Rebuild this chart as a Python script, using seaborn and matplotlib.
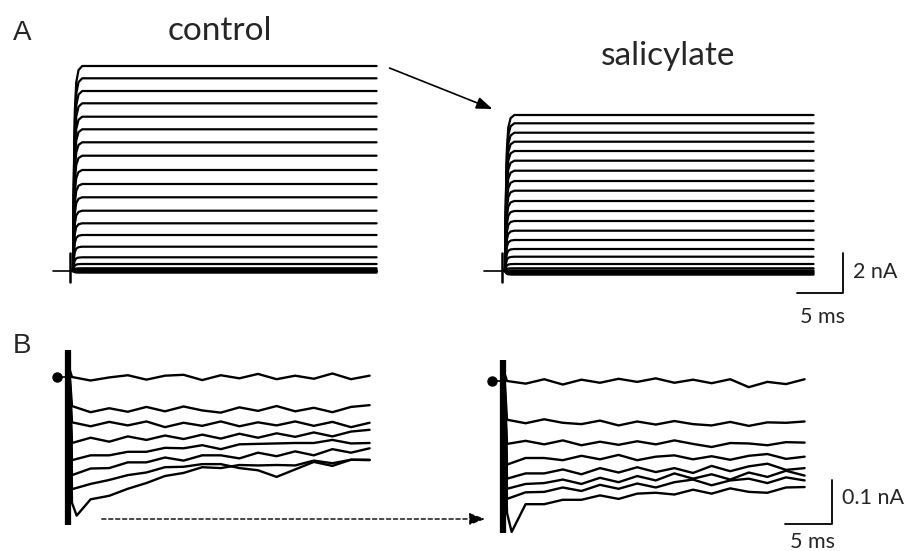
import pandas as pd
import seaborn as sns
import matplotlib.pyplot as plt

# ---- data ----
# A: steady-state outward current (nA) of each voltage step
ctrl_a_levels = [10.25, 9.635, 9.0, 8.385, 7.715, 7.085, 6.435, 5.765, 5.05, 4.35, 3.685,
                 3.015, 2.385, 1.8, 1.215, 0.685, 0.35, 0.135, 0.05, 0.0, -0.04, -0.08]
sal_a_levels = [7.8, 7.385, 6.915, 6.465, 6.0, 5.515, 5.015, 4.5, 4.015, 3.5, 3.0,
                2.5, 2.015, 1.55, 1.1, 0.715, 0.35, 0.135, 0.03, -0.03, -0.08, -0.13, -0.18]
# activation time course (fraction of steady state), ms
act_t = [0.0, 0.1, 0.2, 0.35, 0.6, 1.0, 33.0]
act_frac = [0.0, 0.5, 0.78, 0.92, 0.98, 1.0, 1.0]

# B: small currents (nA) sampled every 2 ms
b_t = [0, 2, 4, 6, 8, 10, 12, 14, 16, 18, 20, 22, 24, 26, 28, 30, 32]
ctrl_b_traces = [
    [0.0, -0.008, -0.001, 0.004, -0.006, 0.003, 0.005, -0.007, 0.004, -0.003, 0.007, -0.005, 0.003, -0.004, 0.008, -0.005, 0.003],
    [-0.066, -0.080, -0.071, -0.079, -0.068, -0.078, -0.067, -0.076, -0.081, -0.069, -0.077, -0.066, -0.078, -0.070, -0.080, -0.068, -0.064],
    [-0.103, -0.112, -0.102, -0.110, -0.101, -0.114, -0.104, -0.111, -0.101, -0.112, -0.103, -0.110, -0.101, -0.111, -0.102, -0.114, -0.104],
    [-0.150, -0.138, -0.147, -0.135, -0.143, -0.133, -0.141, -0.131, -0.140, -0.129, -0.138, -0.128, -0.136, -0.126, -0.135, -0.124, -0.120],
    [-0.189, -0.178, -0.178, -0.170, -0.170, -0.161, -0.162, -0.155, -0.164, -0.153, -0.152, -0.151, -0.150, -0.150, -0.143, -0.151, -0.150],
    [-0.223, -0.208, -0.207, -0.194, -0.194, -0.183, -0.190, -0.178, -0.178, -0.185, -0.172, -0.180, -0.169, -0.178, -0.164, -0.172, -0.162],
    [-0.255, -0.243, -0.234, -0.223, -0.217, -0.205, -0.204, -0.198, -0.198, -0.207, -0.212, -0.227, -0.210, -0.193, -0.202, -0.188, -0.188],
    [-0.286, -0.278, -0.270, -0.254, -0.241, -0.225, -0.218, -0.205, -0.207, -0.200, -0.201, -0.200, -0.201, -0.190, -0.196, -0.188, -0.189],
]
sal_b_traces = [
    [0.0, -0.006, 0.004, -0.008, 0.003, -0.004, 0.005, -0.002, 0.006, -0.004, 0.003, -0.005, 0.004, -0.014, -0.002, -0.007, 0.004],
    [-0.088, -0.096, -0.087, -0.095, -0.098, -0.090, -0.101, -0.092, -0.099, -0.091, -0.098, -0.101, -0.093, -0.102, -0.094, -0.095, -0.092],
    [-0.143, -0.136, -0.144, -0.135, -0.146, -0.138, -0.145, -0.137, -0.144, -0.135, -0.143, -0.150, -0.141, -0.142, -0.146, -0.139, -0.140],
    [-0.190, -0.175, -0.175, -0.180, -0.170, -0.178, -0.168, -0.180, -0.172, -0.169, -0.178, -0.171, -0.179, -0.170, -0.166, -0.177, -0.172],
    [-0.222, -0.210, -0.210, -0.201, -0.212, -0.198, -0.208, -0.196, -0.207, -0.198, -0.209, -0.193, -0.205, -0.194, -0.188, -0.202, -0.198],
    [-0.245, -0.234, -0.232, -0.224, -0.234, -0.220, -0.230, -0.216, -0.226, -0.210, -0.222, -0.212, -0.224, -0.208, -0.218, -0.204, -0.215],
    [-0.268, -0.253, -0.252, -0.242, -0.250, -0.236, -0.245, -0.233, -0.242, -0.230, -0.224, -0.237, -0.226, -0.222, -0.232, -0.219, -0.226],
    [-0.300, -0.280, -0.280, -0.270, -0.270, -0.260, -0.268, -0.256, -0.254, -0.258, -0.247, -0.256, -0.244, -0.252, -0.254, -0.242, -0.241],
]
# transient dip of the largest trace and capacitive artifact extent
ctrl_b_dip = -0.315
sal_b_dip = -0.343
ctrl_b_artifact = [0.061, -0.336]
sal_b_artifact = [0.048, -0.345]

sns.set_theme(style="white")
plt.rcParams['font.family'] = ['Lato', 'DejaVu Sans']

W, H = 911, 551
fig = plt.figure(figsize=(W / 100, H / 100), dpi=100)


def panel(left, top, w, h, t0, y0, px_ms, px_unit):
    # axes placed in pixel units, limits chosen so data sits on the right pixels
    ax = fig.add_axes([left / W, 1 - (top + h) / H, w / W, h / H])
    ax.set_xlim((left - t0) / px_ms, (left + w - t0) / px_ms)
    ax.set_ylim((y0 - (top + h)) / px_unit, (y0 - top) / px_unit)
    ax.axis("off")
    return ax


def step_frame(levels):
    rows = []
    for k, lev in enumerate(levels):
        for t, f in zip(act_t, act_frac):
            rows.append({"trace": k, "t": t, "i": lev * f})
    return pd.DataFrame(rows)


def small_frame(traces, dip):
    rows = []
    last = len(traces) - 1
    for k, vals in enumerate(traces):
        rows.append({"trace": k, "t": -0.3, "i": 0.02})
        for j, (t, v) in enumerate(zip(b_t, vals)):
            rows.append({"trace": k, "t": t, "i": v})
            if j == 0 and k == last:
                rows.append({"trace": k, "t": 0.5, "i": dip})
    return pd.DataFrame(rows)


# ---- A ----
ax_a1 = panel(40, 50, 350, 245, 73, 271, 9.2, 20)
ax_a2 = panel(480, 100, 400, 200, 505, 271, 9.35, 20)
for ax, levels in [(ax_a1, ctrl_a_levels), (ax_a2, sal_a_levels)]:
    sns.lineplot(data=step_frame(levels), x="t", y="i", units="trace", estimator=None,
                 color="black", lw=1.6, sort=False, legend=False, ax=ax)
    ax.plot([-2.2, 0], [0, 0], color="black", lw=1.2)
    ax.plot([-0.3, -0.3], [-0.55, 0.9], color="black", lw=1.8)
    ax.axis("off")

# scale bar A (2 nA, 5 ms)
ax_a2.plot([31.2, 36.1, 36.1], [-1.1, -1.1, 0.9], color="black", lw=1.3)

# ---- B ----
ax_b1 = panel(40, 340, 350, 200, 72, 377, 9.3, 440)
ax_b2 = panel(480, 340, 400, 200, 507, 381, 9.3, 440)
for ax, traces, dip, art in [(ax_b1, ctrl_b_traces, ctrl_b_dip, ctrl_b_artifact),
                             (ax_b2, sal_b_traces, sal_b_dip, sal_b_artifact)]:
    sns.lineplot(data=small_frame(traces, dip), x="t", y="i", units="trace", estimator=None,
                 color="black", lw=1.7, sort=False, legend=False, ax=ax)
    ax.plot([-0.4, -0.4], art, color="black", lw=4.5, solid_capstyle="butt")
    ax.plot([-1.6, -0.4], [0, 0], color="black", lw=1.2)
    ax.plot([-1.6], [0], marker="o", ms=6.5, color="black")
    ax.axis("off")

# scale bar B (0.1 nA, 5 ms)
ax_b2.plot([29.9, 34.9, 34.9], [-0.325, -0.325, -0.225], color="black", lw=1.3)

# ---- overlay for labels and arrows (pixel coordinates) ----
ov = fig.add_axes([0, 0, 1, 1], zorder=5)
ov.set_xlim(0, W)
ov.set_ylim(H, 0)
ov.axis("off")
ov.patch.set_alpha(0)

ov.text(13, 40, "A", fontsize=20, family=["Liberation Sans"], va="baseline", ha="left")
ov.text(13, 353, "B", fontsize=20, family=["Liberation Sans"], va="baseline", ha="left")
ov.text(220, 40, "control", fontsize=24, va="baseline", ha="center")
ov.text(668, 65, "salicylate", fontsize=24, va="baseline", ha="center")
ov.text(853, 272, "2 nA", fontsize=15.5, va="center", ha="left")
ov.text(822, 317, "5 ms", fontsize=15.5, va="center", ha="center")
ov.text(842, 498, "0.1 nA", fontsize=15.5, va="center", ha="left")
ov.text(812, 542, "5 ms", fontsize=15.5, va="center", ha="center")

ov.annotate("", xy=(495, 110), xytext=(387, 67),
            arrowprops=dict(arrowstyle="-|>,head_length=0.8,head_width=0.3", color="black", lw=1.2))
ov.annotate("", xy=(488, 519), xytext=(99, 519),
            arrowprops=dict(arrowstyle="-|>,head_length=0.8,head_width=0.3", color="black",
                            lw=1.0, linestyle=(0, (3, 2))))

fig.savefig("out.png", dpi=100)
